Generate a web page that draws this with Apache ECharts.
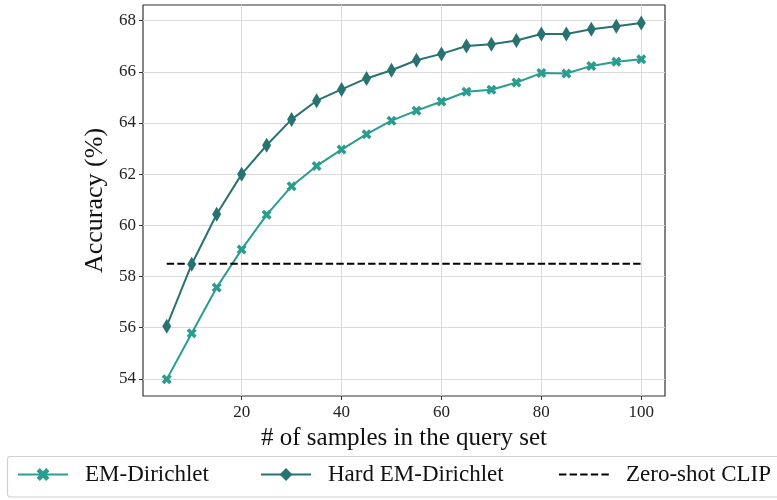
<!DOCTYPE html>
<html>
<head>
<meta charset="utf-8">
<script src="https://cdn.jsdelivr.net/npm/echarts@6/dist/echarts.min.js"></script>
<style>html,body{margin:0;padding:0;background:#fff}#c{width:777px;height:500px}</style>
</head>
<body>
<div id="c"></div>
<script>
const samples = [5,10,15,20,25,30,35,40,45,50,55,60,65,70,75,80,85,90,95,100];
const emDirichlet = [53.98,55.78,57.57,59.06,60.41,61.53,62.32,62.96,63.56,64.09,64.48,64.84,65.22,65.30,65.58,65.95,65.93,66.23,66.39,66.49];
const hardEmDirichlet = [56.06,58.48,60.43,62.00,63.13,64.14,64.87,65.31,65.74,66.06,66.45,66.70,67.01,67.08,67.22,67.48,67.48,67.66,67.78,67.91];
const zeroShotX = [5,100];
const zeroShotValue = 58.5;
const xTicks = [20,40,60,80,100];
const yTicks = [54,56,58,60,62,64,66,68];

const FONT = 'Liberation Serif';
const xFilled = 'path://M1,0L2,1L3,0L4,1L3,2L4,3L3,4L2,3L1,4L0,3L1,2L0,1Z';
const pair = (xs, ys) => xs.map((x,i)=>[x, ys[i]]);

const chart = echarts.init(document.getElementById('c'), null, {renderer:'canvas'});
const legendText = {fontFamily: FONT, fontSize: 23, color: '#111', padding: [0,0,0,12]};
function mkLegend(item, left){
  return {data:[item], left:left, top:463, itemWidth:50, itemHeight:16, padding:0, textStyle:legendText, selectedMode:false};
}
chart.setOption({
  animation: false,
  backgroundColor: '#fff',
  grid: {left:143, right:112, top:5, bottom:104, show:true, borderColor:'#333', borderWidth:1.2, backgroundColor:'transparent'},
  xAxis: {
    type:'value', min:0.25, max:104.75,
    name:'# of samples in the query set', nameLocation:'middle', nameGap:28,
    nameTextStyle:{fontFamily:FONT, fontSize:25, color:'#111'},
    axisLine:{show:false},
    axisTick:{show:true, length:4, inside:false, customValues:xTicks, lineStyle:{color:'#333', width:1}},
    axisLabel:{customValues:xTicks, fontFamily:FONT, fontSize:17, color:'#222', margin:8},
    splitLine:{show:true, lineStyle:{color:'#dadada', width:1}}
  },
  yAxis: {
    type:'value', min:53.33, max:68.61,
    name:'Accuracy (%)', nameLocation:'middle', nameGap:25,
    nameTextStyle:{fontFamily:FONT, fontSize:26, color:'#111'},
    axisLine:{show:false},
    axisTick:{show:true, length:4, inside:false, customValues:yTicks, lineStyle:{color:'#333', width:1}},
    axisLabel:{customValues:yTicks, fontFamily:FONT, fontSize:17, color:'#222', margin:7},
    splitLine:{show:true, lineStyle:{color:'#dadada', width:1}}
  },
  legend: [
    mkLegend('EM-Dirichlet',17),
    mkLegend('Hard EM-Dirichlet',260),
    mkLegend({name:'Zero-shot CLIP', itemStyle:{opacity:0}},558)
  ],
  graphic: [{type:'rect', shape:{x:7.5, y:456.5, width:800, height:40.5, r:3}, style:{fill:'none', stroke:'#d0d0d0', lineWidth:1.2}, z:-1}],
  series: [
    {name:'EM-Dirichlet', type:'line', data:pair(samples, emDirichlet), symbol:xFilled, symbolSize:10,
     itemStyle:{color:'#2a9d8f'}, lineStyle:{color:'#2a9d8f', width:2}},
    {name:'Hard EM-Dirichlet', type:'line', data:pair(samples, hardEmDirichlet), symbol:'diamond', symbolSize:[9,15],
     itemStyle:{color:'#287271'}, lineStyle:{color:'#287271', width:2}},
    {name:'Zero-shot CLIP', type:'line', data:zeroShotX.map(x=>[x, zeroShotValue]), symbol:'none',
     itemStyle:{color:'#000'}, lineStyle:{color:'#000', width:2, type:[7.4,3.2]}}
  ]
});
</script>
</body>
</html>
